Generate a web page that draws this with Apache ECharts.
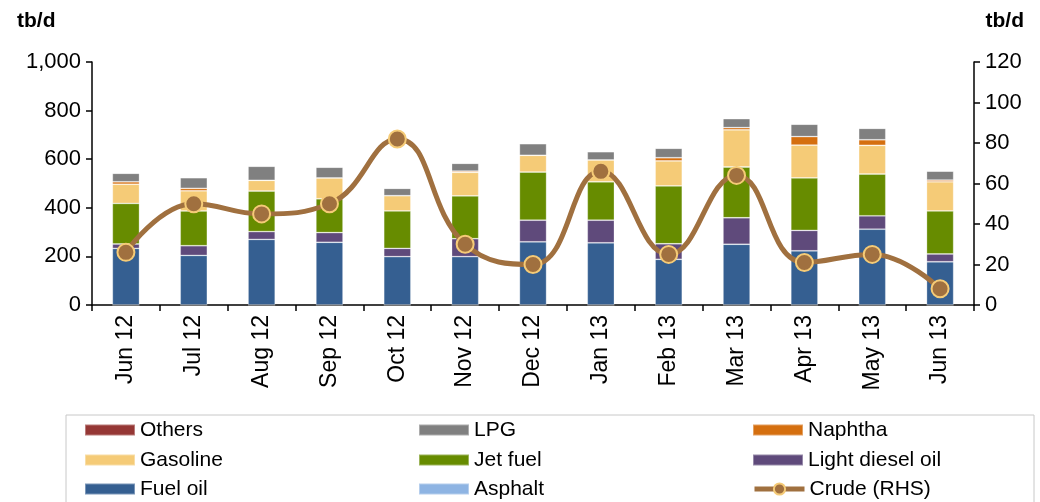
<!DOCTYPE html>
<html>
<head>
<meta charset="utf-8">
<script src="https://cdn.jsdelivr.net/npm/echarts@6/dist/echarts.min.js"></script>
<style>
  html, body { margin: 0; padding: 0; background: #fff; }
  #chart { width: 1040px; height: 502px; }
</style>
</head>
<body>
<div id="chart"></div>
<script>
// data
var months = ['Jun 12', 'Jul 12', 'Aug 12', 'Sep 12', 'Oct 12', 'Nov 12', 'Dec 12',
              'Jan 13', 'Feb 13', 'Mar 13', 'Apr 13', 'May 13', 'Jun 13']
var fuelOil   = [233, 204, 270, 258, 199, 199, 260, 256, 188, 250, 223, 312, 178]
var lightDiesel = [18, 40, 32, 40, 34, 74, 89, 93, 64, 109, 84, 55, 32]
var jetFuel   = [167, 143, 167, 139, 154, 176, 198, 158, 238, 209, 216, 172, 177]
var gasoline  = [79, 83, 44, 86, 63, 97, 69, 90, 103, 153, 135, 118, 120]
var naphtha   = [10, 10, 0, 0, 0, 5, 0, 0, 13, 9, 35, 23, 7]
var lpg       = [35, 44, 58, 44, 30, 32, 48, 34, 39, 37, 51, 47, 37]
var others    = [0, 0, 0, 0, 0, 0, 0, 0, 0, 0, 0, 0, 0]
var asphalt   = [0, 0, 0, 0, 0, 0, 0, 0, 0, 0, 0, 0, 0]
var crude     = [26, 50, 45, 50, 82, 30, 20, 66, 25, 64, 21, 25, 8]

var leftTicks = { min: 0, max: 1000, interval: 200 }
var rightTicks = { min: 0, max: 120, interval: 20 }

var font = 'Liberation Sans, Arial, sans-serif'
var crudeColor = '#A0703F'
var crudeEdge = '#F5CB77'

function bar(name, data, color) {
  return {
    name: name,
    type: 'bar',
    stack: 'prod',
    barWidth: '40%',
    data: data,
    itemStyle: { color: color, borderColor: 'rgba(255,255,255,0.35)', borderWidth: 0.8 }
  }
}

var chart = echarts.init(document.getElementById('chart'), null, { renderer: 'canvas' })

// one legend per entry so the 3x3 grid lines up like the original
function legendItem(x, yc, name, isLine) {
  var item = isLine
    ? { name: name, lineStyle: { width: 5, color: crudeColor } }
    : { name: name, icon: 'rect' }
  return {
    left: x,
    top: yc - 11,
    itemWidth: 50,
    itemHeight: isLine ? 14 : 11,
    itemGap: 0,
    padding: 0,
    textStyle: { fontFamily: font, fontSize: 21, color: '#000', lineHeight: 22 },
    data: [item]
  }
}

chart.setOption({
  animation: false,
  title: [
    { text: 'tb/d', left: 12, top: 6, textStyle: { fontFamily: font, fontSize: 21, fontWeight: 'bold', color: '#000' } },
    { text: 'tb/d', right: 11, top: 6, textStyle: { fontFamily: font, fontSize: 21, fontWeight: 'bold', color: '#000' } }
  ],
  grid: { left: 92, right: 66, top: 62, bottom: 197 },
  graphic: [{
    type: 'rect',
    shape: { x: 66, y: 415, width: 968, height: 100 },
    style: { fill: 'none', stroke: '#c8c8c8', lineWidth: 1 }
  }],
  legend: [
    legendItem(84, 430, 'Others'),
    legendItem(84, 460, 'Gasoline'),
    legendItem(84, 489, 'Fuel oil'),
    legendItem(418, 430, 'LPG'),
    legendItem(418, 460, 'Jet fuel'),
    legendItem(418, 489, 'Asphalt'),
    legendItem(752, 430, 'Naphtha'),
    legendItem(752, 460, 'Light diesel oil'),
    legendItem(752, 489, 'Crude (RHS)', true)
  ],
  xAxis: {
    type: 'category',
    data: months,
    axisLine: { lineStyle: { color: '#000', width: 1.5 } },
    axisTick: { show: true, length: 6, lineStyle: { color: '#000', width: 1.5 } },
    axisLabel: { rotate: 90, fontFamily: font, fontSize: 23, color: '#000', margin: 10 }
  },
  yAxis: [{
    type: 'value',
    min: leftTicks.min, max: leftTicks.max, interval: leftTicks.interval,
    splitLine: { show: false },
    axisLine: { show: true, lineStyle: { color: '#000', width: 1.5 } },
    axisTick: { show: true, length: 6, lineStyle: { color: '#000', width: 1.5 } },
    axisLabel: {
      fontFamily: font, fontSize: 22, color: '#000', margin: 11,
      formatter: function (v) { return v.toLocaleString('en-US') }
    }
  }, {
    type: 'value',
    min: rightTicks.min, max: rightTicks.max, interval: rightTicks.interval,
    splitLine: { show: false },
    axisLine: { show: true, lineStyle: { color: '#000', width: 1.5 } },
    axisTick: { show: true, length: 6, lineStyle: { color: '#000', width: 1.5 } },
    axisLabel: { fontFamily: font, fontSize: 22, color: '#000', margin: 11 }
  }],
  series: [
    bar('Asphalt', asphalt, '#8EB4E3'),
    bar('Fuel oil', fuelOil, '#355F91'),
    bar('Light diesel oil', lightDiesel, '#5F4A7B'),
    bar('Jet fuel', jetFuel, '#678C00'),
    bar('Gasoline', gasoline, '#F5CB77'),
    bar('Naphtha', naphtha, '#D56F0F'),
    bar('LPG', lpg, '#808080'),
    bar('Others', others, '#953735'),
    {
      name: 'Crude (RHS)',
      type: 'line',
      yAxisIndex: 1,
      smooth: 0.45,
      data: crude,
      symbol: 'circle',
      symbolSize: 17,
      lineStyle: { color: crudeColor, width: 5 },
      itemStyle: { color: crudeColor, borderColor: crudeEdge, borderWidth: 2 },
      z: 5
    }
  ]
})
</script>
</body>
</html>
